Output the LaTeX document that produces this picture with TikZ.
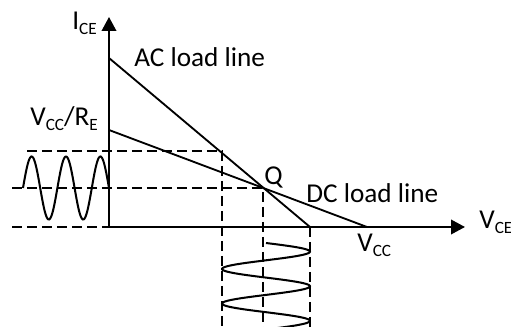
\documentclass[tikz,border=0pt]{standalone}
\usepackage{fontspec}
\setmainfont{Carlito}
\usepackage{tikz}
\usetikzlibrary{arrows.meta,positioning,calc}
\newcommand{\sbs}[1]{\raisebox{-2.8pt}{\fontsize{9.8}{10}\selectfont #1}}
\tikzset{
  axis/.style={line width=1.2pt, draw=black, -{Triangle[length=0.28cm, width=0.29cm]}},
  lline/.style={line width=1.05pt, draw=black},
  guide/.style={line width=1.05pt, draw=black, dash pattern=on 0.2cm off 0.1cm},
  wave/.style={line width=1.15pt, draw=black},
  lbl/.style={inner sep=0pt, font=\fontsize{15.5}{18}\selectfont, anchor=base west},
}
\begin{document}
\begin{tikzpicture}[x=0.02cm, y=-0.02cm]
        \useasboundingbox (0,0) rectangle (511,327);
        % operating points
        \coordinate (O) at (109,227);
        \coordinate (ytop) at (109,17);
        \coordinate (xend) at (465,227);
        \coordinate (acT) at (109,58);
        \coordinate (acB) at (310,227);
        \coordinate (dcT) at (109,130);
        \coordinate (dcB) at (367,227);
        \coordinate (Q) at (263,188);
        \coordinate (imax) at (222,151);
        \coordinate (hiL) at (27,151);
        \coordinate (qL) at (12,188);
        \coordinate (loL) at (12,227);
        \coordinate (vmin) at (222,327);
        \coordinate (vq) at (263,327);
        \coordinate (vmax) at (310,327);
        % projection guides
        \draw[guide] (hiL) -- (imax) -- (vmin);
        \draw[guide] (qL) -- (Q) -- (vq);
        \draw[guide] (loL) -- (O);
        \draw[guide] (acB) -- (vmax);
        % axes
        \draw[axis] (O) -- (ytop);
        \draw[axis] (O) -- (xend);
        % load lines
        \draw[lline] (acT) -- (acB);
        \draw[lline] (dcT) -- (dcB);
        % signals (period 34.4 and 34.6 px)
        \begin{scope}
          \clip (0,0) rectangle (511,327);
          \draw[wave] plot[domain=23:109, samples=120, smooth]
            (\x, {188 - 31.5*sin(10.4651*(\x-23))});
          \draw[wave] plot[domain=243:330, samples=120, smooth]
            ({266 + 44*sin(10.4046*(\x-243))}, \x);
        \end{scope}
        % labels
        \node[lbl] (ice) at (72,30) {I\sbs{CE}};
        \node[lbl] (aclbl) at (134,67) {AC load line};
        \node[lbl] (ratio) at (30,126) {V\sbs{CC}/R\sbs{E}};
        \node[lbl] (qlbl) at (264,185) {Q};
        \node[lbl] (dclbl) at (306,203) {DC load line};
        \node[lbl] (vce) at (479,229) {V\sbs{CE}};
        \node[lbl] (vcc) at (357,252) {V\sbs{CC}};
\end{tikzpicture}
\end{document}
